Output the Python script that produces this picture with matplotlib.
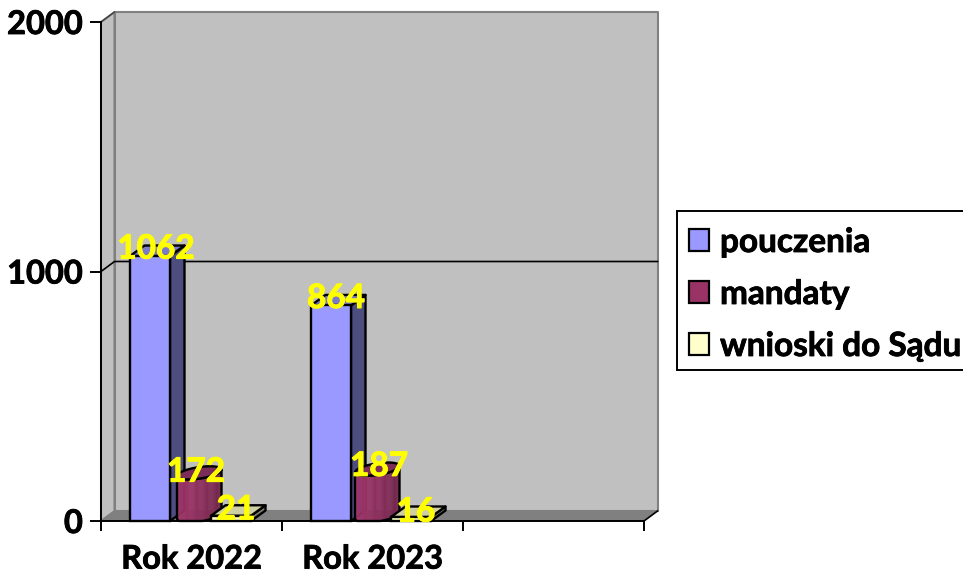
import numpy as np
import matplotlib
matplotlib.use("Agg")
import matplotlib.pyplot as plt
import matplotlib.patheffects as pe
from matplotlib.patches import Polygon, Patch, Rectangle

categories = ["Rok 2022", "Rok 2023", ""]
pouczenia = [1062, 864]
mandaty = [172, 187]
wnioski = [21, 16]
series_names = ["pouczenia", "mandaty", "wnioski do Sądu"]
y_ticks = [0, 1000, 2000]

plt.rcParams["font.family"] = ["Lato", "DejaVu Sans"]
plt.rcParams["font.weight"] = "bold"

W, H = 963, 576
fig = plt.figure(figsize=(W / 100, H / 100), dpi=100)
L, R, B, T = 101, 644, 521, 22
ax = fig.add_axes([L / W, 1 - B / H, (R - L) / W, (B - T) / H])
ax.set_xlim(0, 3)
ax.set_ylim(0, 2000)

ux = 3 / (R - L)
uy = 2000 / (B - T)
wx, wy = 13.5 * ux, 10 * uy
bx, by = 14.5 * ux, 10.5 * uy
ymax = 2000

black_fx = [pe.withStroke(linewidth=0.6, foreground="black")]
yellow_fx = [pe.withStroke(linewidth=0.8, foreground="#ffff00")]


def poly(pts, fc, ec="none", lw=1.0, z=1):
    ax.add_patch(Polygon(pts, closed=True, facecolor=fc, edgecolor=ec, linewidth=lw,
                         zorder=z, clip_on=False, joinstyle="round"))


poly([(0, 0), (wx, wy), (wx, ymax + wy), (0, ymax)], "#c0c0c0", "#808080", 1.5, 1)
poly([(wx, wy), (3 + wx, wy), (3 + wx, ymax + wy), (wx, ymax + wy)], "#c0c0c0", "#808080", 1.5, 1)
poly([(0, 0), (3, 0), (3 + wx, wy), (wx, wy)], "#808080", "none", 1, 2)
ax.plot([0, wx, 3 + wx], [1000, 1000 + wy, 1000 + wy], color="black", lw=1.2, zorder=3, clip_on=False)
ax.plot([0, wx], [ymax, ymax + wy], color="#404040", lw=1.0, zorder=3, clip_on=False)
ax.plot([3, 3 + wx], [0, wy], color="black", lw=1.2, zorder=3, clip_on=False)

edge = "black"
BL = 1.7
w1 = 40 * ux
w3 = 40 * ux
cyl_w = 30 * ux


def box(x0, w, v, front, top, side, z):
    poly([(x0 + w, 0), (x0 + w + bx, by), (x0 + w + bx, v + by), (x0 + w, v)], side, edge, BL, z)
    poly([(x0, v), (x0 + w, v), (x0 + w + bx, v + by), (x0 + bx, v + by)], top, edge, BL, z)
    ax.bar(x0, v, width=w, align="edge", color=front, edgecolor=edge, linewidth=BL, zorder=z, clip_on=False)


def cylinder(x0, w, v, z):
    xs = np.linspace(x0, x0 + w + bx, 41)
    f = (xs - xs[0]) / (xs[-1] - xs[0])
    half = np.sqrt(np.clip(1 - (2 * f - 1) ** 2, 0, 1))
    tilt = (2 * f - 1) * by * 0.3
    low = np.maximum(by / 2 + tilt - half * by * 0.55, 0)
    up = v + by / 2 + tilt - half * by * 0.55
    upb = v + by / 2 + tilt + half * by * 0.55
    r0 = np.array([0xa0, 0x35, 0x6a])
    for i in range(len(xs) - 1):
        s = 1 - 0.30 * (f[i] ** 1.3)
        c = tuple((r0 * s) / 255)
        poly([(xs[i], low[i]), (xs[i + 1], low[i + 1]), (xs[i + 1], up[i + 1] + 0.3), (xs[i], up[i] + 0.3)], c, c, 0.3, z)
    poly(list(zip(xs, low)) + list(zip(xs[::-1], up[::-1])), "none", edge, BL, z)
    poly(list(zip(xs, up)) + list(zip(xs[::-1], upb[::-1])), "#7a2d58", edge, BL, z)


pos1 = [29 * ux, 210 * ux]
pos2 = [76 * ux, 254 * ux]
pos3 = [110 * ux, 290 * ux]
for i in range(len(pouczenia)):
    box(pos1[i], w1, pouczenia[i], "#9999ff", "#7a7acc", "#4d4d80", 4)
    cylinder(pos2[i], cyl_w, mandaty[i], 5)
    box(pos3[i], w3, wnioski[i], "#ffffcc", "#cfcfa4", "#808066", 6)

lab_dx = [(26, 19, 25), (25, 24, 25)]
lab_dy = [(7, 6, 6), (7, 8, 5)]
for i in range(len(pouczenia)):
    for j, (vals, pos) in enumerate(zip((pouczenia, mandaty, wnioski), (pos1, pos2, pos3))):
        ax.text(pos[i] + lab_dx[i][j] * ux, vals[i] + lab_dy[i][j] * uy, str(vals[i]),
                color="#ffff00", fontsize=24, fontweight="bold", ha="center", va="center",
                zorder=10, clip_on=False, path_effects=yellow_fx)

for s in ("top", "right"):
    ax.spines[s].set_visible(False)
for s in ("left", "bottom"):
    ax.spines[s].set_linewidth(1.4)
    ax.spines[s].set_zorder(8)
ax.patch.set_visible(False)
ax.set_yticks(y_ticks)
ax.set_yticklabels([str(v) for v in y_ticks], fontsize=23.5, fontweight="bold", color="black",
                   path_effects=black_fx)
ax.set_xticks([0, 1, 2, 3])
ax.set_xticklabels([])
ax.set_xticks([0.5, 1.5, 2.5], labels=categories, minor=True)
ax.tick_params(axis="x", which="minor", length=0, pad=17, labelsize=23.5)
for t in ax.get_xticklabels(minor=True):
    t.set_path_effects(black_fx)
ax.tick_params(axis="x", which="major", length=7, width=1.4)
ax.tick_params(axis="y", length=8, width=1.4, pad=5)

# legend frame runs off the right edge of the figure, as in the reference
fig.add_artist(Rectangle((677 / W, 1 - 370 / H), 300 / W, 159 / H, transform=fig.transFigure,
                         facecolor="white", edgecolor="black", linewidth=1.4, clip_on=True))
handles = [Patch(facecolor=c, edgecolor="black", linewidth=1.6, label=n)
           for c, n in zip(["#9999ff", "#993366", "#ffffcc"], series_names)]
leg = fig.legend(handles=handles, loc="upper left",
                 bbox_to_anchor=(677 / W, 1 - 216 / H), frameon=False,
                 prop={"size": 24, "weight": "bold"},
                 handlelength=0.6, handleheight=0.62, handletextpad=0.33,
                 labelspacing=0.69, borderpad=0.36, borderaxespad=0)
for t in leg.get_texts():
    t.set_path_effects(black_fx)

fig.savefig("out.png", dpi=100)
